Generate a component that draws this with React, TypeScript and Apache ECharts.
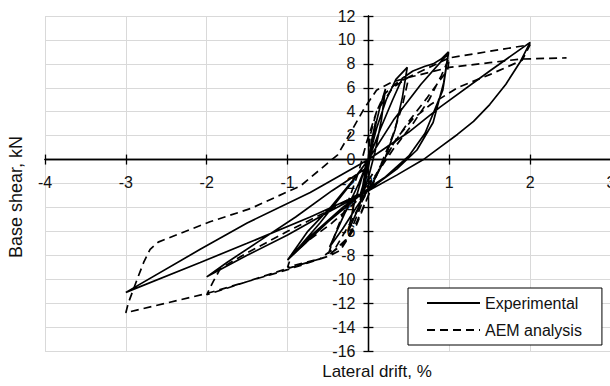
import { useEffect, useRef } from "react";
import * as echarts from "echarts";

// Axis ranges / ticks
const xMin = -4, xMax = 3, xStep = 1;
const yMin = -16, yMax = 12, yStep = 2;

// Experimental hysteresis, by cycle: [drift %, base shear kN]
const expCycle01 = [[0,0],[0.04,1.6],[0.09,3.2],[0.05,1.2],[0,-0.6],[-0.05,-2.2],[-0.1,-3.4],[-0.05,-1.4],[0,0]];
const expCycle025 = [[0.06,2.1],[0.14,4.3],[0.21,5.9],[0.16,3.3],[0.08,0.6],[0,-1.5],[-0.12,-4.0],[-0.25,-6.0],[-0.18,-3.8],[-0.08,-1.5],[0,0]];
const expCycle05 = [[0.1,2.6],[0.22,5.0],[0.34,6.7],[0.48,7.7],[0.42,5.2],[0.33,2.5],[0.2,0],[0.05,-2.0],[-0.15,-4.0],[-0.32,-5.8],[-0.48,-7.3],[-0.3,-4.6],[-0.12,-2.0],[0,0]];
const expCycle1 = [[0.15,2.6],[0.3,5.0],[0.42,6.8],[0.55,7.4],[0.7,7.8],[0.8,8.0],[0.9,8.4],[0.99,9.0],[0.93,6.4],[0.8,3.1],[0.6,0.8],[0.35,-0.8],[0.05,-2.3],[-0.3,-3.9],[-0.7,-6.3],[-1.0,-8.4],[-0.75,-6.0],[-0.47,-4.0],[-0.2,-1.8],[0,0]];
const expCycle1b = [[0.31,3.3],[0.65,6.3],[0.99,8.9],[0.92,5.8],[0.7,2.2],[0.5,0.3],[0.2,-1.5],[0,-2.4],[-0.5,-5.2],[-0.97,-8.2],[-0.6,-5.3],[-0.26,-2.4],[0,0]];
const expCycle2 = [[0.5,2.3],[0.89,4.4],[1.5,7.4],[2.0,9.8],[1.88,8.2],[1.7,6.3],[1.5,4.6],[1.3,3.2],[1.1,2.1],[0.9,1.1],[0.68,0],[0.35,-1.3],[0,-2.6],[-0.5,-4.4],[-1.0,-6.3],[-1.5,-8.0],[-2.0,-9.8],[-1.75,-8.6],[-1.37,-6.9],[-0.9,-4.8],[-0.45,-2.6],[0,-0.6]];
const expCycle3 = [[-0.1,-2.9],[-0.72,-4.8],[-1.5,-7.0],[-2.08,-8.6],[-3.0,-11.1],[-2.08,-7.5],[-1.5,-5.3],[-0.72,-2.76],[0,0]];

// AEM analysis, by cycle
const aemCycle05 = [[0,0],[0.02,2.0],[0.1,4.0],[0.2,5.5],[0.35,6.4],[0.5,6.9],[0.42,4.5],[0.3,2.0],[0.15,-0.5],[0,-3.0],[-0.15,-5.3],[-0.3,-7.0],[-0.5,-8.0],[-0.4,-6.0],[-0.25,-3.5],[-0.12,-1.0],[-0.02,1.5],[0.1,4.0],[0.3,6.0],[0.5,6.9]];
const aemCycle1 = [[0.75,7.7],[1.0,8.5],[0.98,7.5],[0.73,5.2],[0.5,3.2],[0.3,1.2],[0.12,-1.0],[0,-3.0],[-0.15,-5.5],[-0.35,-7.6],[-0.5,-8.1],[-1.0,-9.0],[-0.95,-8.0],[-0.75,-6.8],[-0.45,-5.3],[-0.15,-3.5],[0.1,-1.2],[0.3,0.8],[0.55,3.0],[0.75,5.0],[0.9,7.0],[1.0,8.5]];
const aemCycle2 = [[1.5,9.05],[2.0,9.6],[1.9,8.3],[1.5,7.1],[1.1,6.0],[0.77,4.6],[0.55,3.4],[0.35,1.8],[0.15,-0.5],[0,-2.5],[-0.2,-5.0],[-0.4,-7.3],[-0.6,-8.3],[-1.0,-9.1],[-1.5,-10.2],[-2.0,-11.3],[-1.92,-10.2],[-1.83,-9.1],[-1.5,-7.8],[-1.0,-6.0],[-0.5,-4.3],[-0.1,-2.8],[0.05,-1.2]];
const aemCycle3 = [[-0.1,-4.0],[-0.25,-6.5],[-0.5,-8.1],[-1.0,-9.2],[-2.0,-11.2],[-3.0,-12.8],[-2.97,-12.0],[-2.86,-10.0],[-2.78,-8.6],[-2.7,-7.5],[-2.6,-6.9],[-1.96,-5.2],[-1.46,-4.1],[-0.84,-2.2],[-0.38,0.4],[-0.2,2.5],[-0.05,4.3],[0.1,5.8],[0.3,6.5],[0.52,6.9],[1.0,7.7],[1.5,8.1],[1.88,8.4],[2.45,8.5]];

const seriesNames = ["Experimental", "AEM analysis"];
const xTitle = "Lateral drift, %";
const yTitle = "Base shear, kN";

const FONT = "'Liberation Sans', Arial, sans-serif";

// plot area layout
const GL = 45, GT = 16, GW = 566, GH = 335;

export default function App() {
  const ref = useRef<HTMLDivElement>(null);
  useEffect(() => {
    if (!ref.current) return;
    const chart = echarts.init(ref.current, undefined, { renderer: "svg" });
    const expData = [...expCycle01, ...expCycle025, ...expCycle05, ...expCycle1, ...expCycle1b, ...expCycle2, ...expCycle3];
    const aemData = [...aemCycle05, ...aemCycle1, ...aemCycle2, ...aemCycle3];
    const axisLine = { color: "#000", width: 1.3 };
    const label = { fontSize: 16, color: "#111", fontFamily: FONT };
    // offsets that put the axes through the origin (crossing axes)
    const offBottom = -(GH * (0 - yMin) / (yMax - yMin));
    const offTop = -(GH * (yMax - 0) / (yMax - yMin));
    const offLeft = -(GW * (0 - xMin) / (xMax - xMin));
    const offRight = -(GW * (xMax - 0) / (xMax - xMin));
    chart.setOption({
      animation: false,
      backgroundColor: "#fff",
      grid: { left: GL, top: GT, width: GW, height: GH, containLabel: false, outerBoundsMode: "none" },
      xAxis: [
        {
          type: "value", min: xMin, max: xMax, interval: xStep, position: "bottom", offset: offBottom,
          axisLine: { onZero: false, lineStyle: axisLine },
          axisTick: { show: true, length: 5, lineStyle: axisLine },
          axisLabel: { ...label, margin: 15 },
          splitLine: { show: true, lineStyle: { color: "#d9d9d9", width: 1 } },
        },
        {
          type: "value", min: xMin, max: xMax, interval: xStep, position: "top", offset: offTop,
          axisLine: { onZero: false, lineStyle: axisLine },
          axisTick: { show: true, length: 5, lineStyle: axisLine },
          axisLabel: { show: false },
          splitLine: { show: false },
        },
      ],
      yAxis: [
        {
          type: "value", min: yMin, max: yMax, interval: yStep, position: "left", offset: offLeft,
          axisLine: { onZero: false, lineStyle: axisLine },
          axisTick: { show: true, length: 5, lineStyle: axisLine },
          axisLabel: { ...label, margin: 13 },
          splitLine: { show: true, lineStyle: { color: "#d9d9d9", width: 1 } },
        },
        {
          type: "value", min: yMin, max: yMax, interval: yStep, position: "right", offset: offRight,
          axisLine: { onZero: false, lineStyle: axisLine },
          axisTick: { show: true, length: 5, lineStyle: axisLine },
          axisLabel: { show: false },
          splitLine: { show: false },
        },
      ],
      legend: {
        orient: "vertical", left: 408, top: 288,
        padding: [7, 20, 7, 18], itemGap: 11, itemWidth: 53, itemHeight: 14,
        borderColor: "#000", borderWidth: 1, backgroundColor: "#fff",
        itemStyle: { opacity: 0, color: "rgba(0,0,0,0)", borderWidth: 0 },
        textStyle: { fontSize: 16, color: "#111", fontFamily: FONT },
        data: seriesNames,
      },
      series: [
        {
          name: seriesNames[0], type: "line", data: expData, symbol: "none", showSymbol: false,
          lineStyle: { color: "#000", width: 1.7 }, itemStyle: { color: "#000" }, z: 3,
          emphasis: { disabled: true },
        },
        {
          name: seriesNames[1], type: "line", data: aemData, symbol: "none", showSymbol: false,
          lineStyle: { color: "#000", width: 1.7, type: [8, 5] }, itemStyle: { color: "#000" }, z: 2,
          emphasis: { disabled: true },
        },
      ],
      graphic: [
        {
          type: "text", x: 377, y: 371,
          style: { text: xTitle, fontSize: 17, fontFamily: FONT, fill: "#111", align: "center", verticalAlign: "middle", textAlign: "center", textVerticalAlign: "middle" },
        },
        {
          type: "text", x: 16, y: 197, rotation: Math.PI / 2,
          style: { text: yTitle, fontSize: 18, fontFamily: FONT, fill: "#111", align: "center", verticalAlign: "middle", textAlign: "center", textVerticalAlign: "middle" },
        },
      ],
    });
    return () => chart.dispose();
  }, []);
  return <div ref={ref} style={{ position: "fixed", left: 0, top: 0, width: 610, height: 386, background: "#fff" }} />;
}
